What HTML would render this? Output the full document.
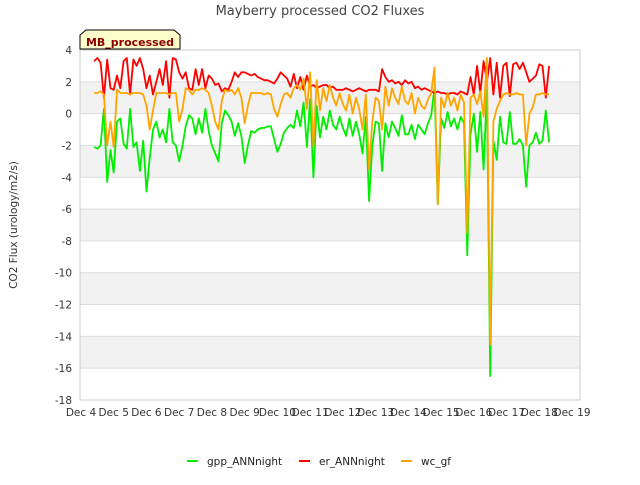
<!DOCTYPE html>
<html><head><meta charset="utf-8"><style>
body{margin:0;background:#fff;font-family:"Liberation Sans","DejaVu Sans",sans-serif}
</style></head><body>
<svg width="640" height="480" xmlns="http://www.w3.org/2000/svg" font-family="'DejaVu Sans','Liberation Sans',sans-serif">
<text x="320" y="15" text-anchor="middle" font-size="13" fill="#444">Mayberry processed CO2 Fluxes</text>
<g id="bands"></g>
<g id="grid"></g>
<g id="yticks" font-size="10.5" fill="#333"></g>
<g id="xticks" font-size="10.5" fill="#333"></g>
<text transform="translate(17,225) rotate(-90)" text-anchor="middle" font-size="10.5" fill="#333">CO2 Flux (urology/m2/s)</text>
<g id="series"></g>
<g>
<path d="M80,49 L80,35 L86,30 L174,30 L180,35 L180,49 Z" fill="#ffffcc" stroke="#000" stroke-width="1"/>
<text x="130" y="46" text-anchor="middle" font-size="11" font-weight="bold" fill="#8b0000">MB_processed</text>
</g>
<g id="legend" font-size="10.5" fill="#222">
<g><line x1="187" y1="461" x2="198" y2="461" stroke="#00ee00" stroke-width="2"/><text x="207" y="465">gpp_ANNnight</text></g>
<g><line x1="299" y1="461" x2="310" y2="461" stroke="#ff0000" stroke-width="2"/><text x="319" y="465">er_ANNnight</text></g>
<g><line x1="401" y1="461" x2="412" y2="461" stroke="#ffa500" stroke-width="2"/><text x="421" y="465">wc_gf</text></g>
</g>
</svg>
<script>
const xTickLabels=["Dec 4","Dec 5","Dec 6","Dec 7","Dec 8","Dec 9","Dec 10","Dec 11","Dec 12","Dec 13","Dec 14","Dec 15","Dec 16","Dec 17","Dec 18","Dec 19"];
const yTickValues=[4,2,0,-2,-4,-6,-8,-10,-12,-14,-16,-18];
const startDay=4.4, stepDay=0.1;
const er=[3.3,3.5,3.2,1.0,3.4,1.6,
1.5,2.4,1.6,3.3,3.5,1.2,3.4,3.0,3.5,2.8,
1.6,2.4,1.2,2.0,2.8,1.8,3.3,1.0,3.5,3.4,
2.6,2.2,2.6,1.6,1.5,2.8,1.8,2.8,1.6,2.4,
2.2,1.8,1.9,1.4,1.6,1.5,2.0,2.6,2.3,2.6,
2.6,2.5,2.4,2.5,2.3,2.2,2.1,2.1,2.0,1.9,
2.2,2.6,2.4,2.2,1.7,2.5,1.6,2.3,1.5,2.4,
1.7,1.8,1.6,1.7,1.8,1.8,1.6,1.7,1.5,1.5,
1.5,1.6,1.5,1.4,1.5,1.6,1.5,1.4,1.5,1.5,
1.5,1.4,2.8,2.3,2.0,2.1,1.9,2.0,1.8,2.1,
1.9,2.0,1.6,1.7,1.5,1.6,1.5,1.4,1.3,1.4,
1.3,1.3,1.2,1.3,1.3,1.2,1.4,1.3,1.2,2.3,
1.2,3.0,1.3,3.3,2.0,3.5,1.2,3.2,1.0,3.0,
3.2,1.1,3.1,3.2,2.8,3.2,2.6,2.0,2.2,2.4,
3.1,3.0,1.0,3.0];
const wc=[1.3,1.3,1.4,1.2,-2.0,-0.5,
-2.1,1.5,1.3,1.3,1.3,1.2,1.3,1.3,1.3,1.2,
0.5,-1.0,0.2,1.3,1.3,1.3,1.3,1.2,1.3,1.3,
-0.5,0.3,1.6,1.5,1.2,1.5,1.5,1.6,1.5,1.3,
0.5,-0.5,-1.0,0.8,1.5,1.4,1.5,1.2,1.6,1.0,
-0.6,0.5,1.3,1.3,1.3,1.3,1.2,1.3,1.2,0.3,
-0.2,0.6,1.2,1.3,1.0,1.6,1.8,1.5,2.2,0.3,
2.6,-2.1,2.1,0.2,1.6,0.8,1.8,1.0,0.5,1.3,
0.6,0.2,1.2,0.0,1.0,0.3,-1.0,1.2,-3.5,-0.5,
1.0,0.8,-1.0,1.7,0.5,1.6,1.0,0.6,1.7,0.8,
0.6,1.3,0.0,1.0,0.5,0.3,0.9,1.3,2.9,-5.7,
1.0,0.4,1.3,0.5,1.0,0.2,1.2,0.7,-7.5,1.0,
1.2,0.6,1.4,-0.2,3.5,-14.5,-0.5,0.3,0.8,1.2,
1.3,1.2,1.2,1.3,1.2,1.2,-2.0,0.0,0.4,1.2,
1.2,1.3,1.2,1.2];
const gpp=[-2.1,-2.2,-2.0,0.3,-4.3,-2.3,
-3.7,-0.5,-0.3,-1.9,-2.2,0.3,-2.1,-1.8,-3.6,-1.7,
-4.9,-2.8,-1.0,-0.5,-1.5,-1.0,-1.8,0.3,-1.8,-2.0,
-3.0,-2.0,-0.8,-0.1,-0.3,-1.3,-0.3,-1.2,0.3,-1.1,
-2.0,-2.5,-3.0,-0.6,0.2,-0.1,-0.5,-1.4,-0.6,-1.4,
-3.1,-2.0,-1.1,-1.2,-1.0,-0.9,-0.9,-0.8,-0.8,-1.6,
-2.4,-1.9,-1.2,-0.9,-0.7,-0.9,0.2,-0.8,0.7,-2.1,
0.9,-4.0,0.5,-1.5,-0.2,-1.0,0.2,-0.7,-1.0,-0.2,
-0.9,-1.4,-0.3,-1.4,-0.5,-1.3,-2.5,-0.2,-5.5,-2.0,
-0.5,-0.6,-3.6,-0.6,-1.5,-0.5,-0.9,-1.4,-0.1,-1.3,
-1.3,-0.7,-1.6,-0.7,-1.0,-1.3,-0.6,-0.1,1.6,-5.7,
-0.3,-0.9,0.1,-0.8,-0.3,-1.0,-0.2,-0.6,-8.9,-1.3,
0.0,-2.4,0.1,-3.5,1.5,-16.5,-1.7,-2.9,-0.2,-1.8,
-1.9,0.1,-1.9,-1.9,-1.6,-2.0,-4.6,-2.0,-1.8,-1.2,
-1.9,-1.7,0.2,-1.8];
const NS="http://www.w3.org/2000/svg";
const L=80,R=580,T=50,B=400,yMax=4,yMin=-18,d0=4,d1=19;
const xS=d=>81+(d-d0)*(572-81)/(d1-d0);
const yS=v=>T+(yMax-v)*(B-T)/(yMax-yMin);
function mk(tag,attrs,parent){const e=document.createElementNS(NS,tag);for(const k in attrs)e.setAttribute(k,attrs[k]);parent.appendChild(e);return e;}
const bands=document.getElementById('bands');
for(let v=2;v>yMin;v-=4){const r=mk('rect',{x:L,y:yS(v),width:R-L,height:yS(v-2)-yS(v),fill:'#f2f2f2'},bands);

}
const grid=document.getElementById('grid');
yTickValues.forEach(v=>{const l=mk('line',{x1:L,x2:R,y1:yS(v),y2:yS(v),stroke:'#ddd','stroke-width':1},grid);

});
const fr=mk('rect',{x:L,y:T,width:R-L,height:B-T,fill:'none',stroke:'#ccc'},grid);


const yt=document.getElementById('yticks');
yTickValues.forEach(v=>{const t=mk('text',{x:L-8,y:yS(v)+4,'text-anchor':'end'},yt);t.textContent=v;

});
const xt=document.getElementById('xticks');
xTickLabels.forEach((s,i)=>{const t=mk('text',{x:xS(d0+i),y:B+16,'text-anchor':'middle'},xt);t.textContent=s;

});
const sg=document.getElementById('series');
[[gpp,'#00ee00','series-gpp'],[er,'#ff0000','series-er'],[wc,'#ffa500','series-wc']].forEach(([arr,c,n])=>{
const pts=arr.map((v,i)=>xS(startDay+i*stepDay).toFixed(1)+','+yS(v).toFixed(1)).join(' ');
const p=mk('polyline',{points:pts,fill:'none',stroke:c,'stroke-width':1.8,'stroke-linejoin':'round'},sg);

});
</script>
</body></html>
